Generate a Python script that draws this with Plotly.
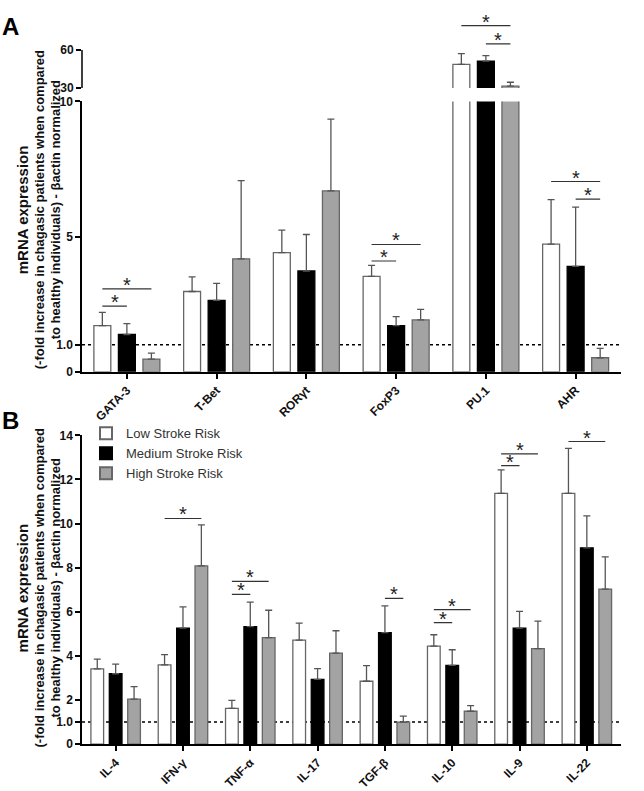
import plotly.graph_objects as go

# ---------------- data ----------------
groups_a = ["GATA-3", "T-Bet", "RORγt", "FoxP3", "PU.1", "AHR"]
low_a = [1.71, 2.97, 4.41, 3.53, 48.7, 4.72]
low_a_err = [0.49, 0.54, 0.83, 0.41, 8.5, 1.65]
med_a = [1.38, 2.64, 3.73, 1.71, 51.3, 3.90]
med_a_err = [0.40, 0.63, 1.35, 0.33, 4.3, 2.19]
high_a = [0.47, 4.18, 6.69, 1.92, 31.5, 0.52]
high_a_err = [0.22, 2.89, 2.66, 0.39, 3.1, 0.35]

groups_b = ["IL-4", "IFN-γ", "TNF-α", "IL-17", "TGF-β", "IL-10", "IL-9", "IL-22"]
low_b = [3.41, 3.59, 1.62, 4.72, 2.85, 4.44, 11.37, 11.37]
low_b_err = [0.44, 0.47, 0.36, 0.77, 0.71, 0.52, 1.06, 2.04]
med_b = [3.19, 5.26, 5.33, 2.94, 5.06, 3.57, 5.26, 8.90]
med_b_err = [0.44, 0.96, 1.11, 0.48, 1.21, 0.71, 0.76, 1.45]
high_b = [2.04, 8.08, 4.83, 4.13, 1.00, 1.49, 4.33, 7.03]
high_b_err = [0.57, 1.86, 1.24, 1.01, 0.27, 0.26, 1.25, 1.46]

series_names = ["Low Stroke Risk", "Medium Stroke Risk", "High Stroke Risk"]

# significance brackets: (group index, bar a, bar b, height)
sig_a_lower = [(0, 0, 1, 2.43), (0, 0, 2, 3.07), (3, 0, 1, 4.10), (3, 0, 2, 4.71),
               (5, 0, 2, 7.04), (5, 1, 2, 6.39)]
sig_a_upper = [(4, 0, 2, 79.2), (4, 1, 2, 64.8)]
sig_b = [(1, 0, 2, 10.23), (2, 0, 2, 7.38), (2, 0, 1, 6.79), (4, 1, 2, 6.61),
         (5, 0, 2, 6.10), (5, 0, 1, 5.51), (6, 0, 2, 13.16), (6, 0, 1, 12.63),
         (7, 0, 2, 13.72)]

# ---------------- styling ----------------
W, H = 644, 791
fills = ["white", "black", "#a3a3a3"]
edges = ["#666666", "black", "#666666"]
FONT = "Arial"
BARGAP = 0.18
SLOT = (1 - BARGAP) / 3


def px_x(p):
    return p / W


def px_y(p):
    return 1 - p / H


X_DOM = [px_x(82), px_x(620.5)]

fig = go.Figure()

def add_bars(cats, vals_list, errs_list, xa, ya, legend):
    for k in range(3):
        fig.add_trace(go.Bar(
            x=cats, y=vals_list[k], name=series_names[k],
            xaxis=xa, yaxis=ya, showlegend=legend,
            offsetgroup=str(k),
            marker=dict(color=fills[k], line=dict(color=edges[k], width=1.3)),
            error_y=dict(type="data", symmetric=False, array=errs_list[k],
                         arrayminus=[0] * len(cats), color="#555555",
                         thickness=1.3, width=3.5),
        ))

vals_a = [low_a, med_a, high_a]
errs_a = [low_a_err, med_a_err, high_a_err]
vals_b = [low_b, med_b, high_b]
errs_b = [low_b_err, med_b_err, high_b_err]

add_bars(groups_a, vals_a, errs_a, "x", "y", False)
add_bars(groups_a, vals_a, errs_a, "x2", "y2", False)
add_bars(groups_b, vals_b, errs_b, "x3", "y3", True)

shapes = []
annotations = []

def add_sig(items, xref, yref):
    for (g, a, b, yv) in items:
        xa = g + (a - 1) * SLOT
        xb = g + (b - 1) * SLOT
        shapes.append(dict(type="line", xref=xref, yref=yref, x0=xa, x1=xb,
                           y0=yv, y1=yv, line=dict(color="#333333", width=1.2)))
        annotations.append(dict(xref=xref, yref=yref, x=(xa + xb) / 2, y=yv,
                                text="*", showarrow=False, yanchor="bottom",
                                xanchor="center",
                                yshift=-9, font=dict(family=FONT, size=20, color="#222")))

add_sig(sig_a_lower, "x", "y")
add_sig(sig_a_upper, "x2", "y2")
add_sig(sig_b, "x3", "y3")

# dotted reference lines at 1.0
for xr, yr in [("x domain", "y"), ("x3 domain", "y3")]:
    shapes.append(dict(type="line", xref=xr, yref=yr, x0=0, x1=1, y0=1, y1=1,
                       layer="below", line=dict(color="black", width=1.5, dash="dot")))

# upper axis line segment (30 - 60)
shapes.append(dict(type="line", xref="x2 domain", yref="y2", x0=0, x1=0, y0=30, y1=60,
                   line=dict(color="black", width=1.5)))

# y-axis titles
def add_title(cy):
    lines = [(22, 15, "<b>mRNA expression</b>"),
             (39, 13, "<b>(-fold increase in chagasic patients when compared</b>"),
             (55, 13, "<b>to healthy individuals) - βactin normalized</b>")]
    for cx, size, txt in lines:
        annotations.append(dict(xref="paper", yref="paper", x=px_x(cx), y=px_y(cy),
                                xanchor="center", yanchor="middle",
                                text=txt, textangle=-90, showarrow=False,
                                font=dict(family=FONT, size=size, color="#111")))

add_title(208)
add_title(595)

annotations.append(dict(xref="paper", yref="paper", x=0, y=px_y(20), xanchor="left",
                        yanchor="middle", text="<b>A</b>", showarrow=False,
                        font=dict(family=FONT, size=24, color="black")))
annotations.append(dict(xref="paper", yref="paper", x=0, y=px_y(423), xanchor="left",
                        yanchor="middle", text="<b>B</b>", showarrow=False,
                        font=dict(family=FONT, size=24, color="black")))

tickfont = dict(family=FONT, size=12, color="#111", weight="bold")
axis_common = dict(showline=True, linecolor="black", linewidth=1.5, ticks="outside",
                   ticklen=5, tickwidth=1.5, tickcolor="black", showgrid=False,
                   zeroline=False, tickfont=tickfont)

fig.update_layout(
    width=W, height=H,
    margin=dict(l=0, r=0, t=0, b=0),
    paper_bgcolor="white", plot_bgcolor="white",
    barmode="group", bargap=BARGAP, bargroupgap=0.31,
    font=dict(family=FONT),
    xaxis=dict(domain=X_DOM, anchor="y", type="category", range=[-0.5, 5.5],
               tickangle=-45, **axis_common),
    yaxis=dict(domain=[px_y(373.3), px_y(96.7)], anchor="x", range=[0, 10],
               tickvals=[0, 1, 5, 10], ticktext=["0", "1.0", "5", "10"], **axis_common),
    xaxis2=dict(domain=X_DOM, anchor="y2", type="category", range=[-0.5, 5.5],
                visible=False),
    yaxis2=dict(domain=[px_y(83), 1], anchor="x2", range=[30, 30 + 83 / 1.3],
                tickvals=[30, 60], ticktext=["30", "60"],
                **{**axis_common, "showline": False}),
    xaxis3=dict(domain=X_DOM, anchor="y3", type="category", range=[-0.5, 7.5],
                tickangle=-45, **axis_common),
    yaxis3=dict(domain=[px_y(754.3), px_y(438.3)], anchor="x3", range=[0, 14],
                tickvals=[0, 1, 2, 4, 6, 8, 10, 12, 14],
                ticktext=["0", "1.0", "2", "4", "6", "8", "10", "12", "14"], **axis_common),
    legend=dict(x=px_x(86), y=px_y(421), xanchor="left", yanchor="top",
                tracegroupgap=0, itemsizing="constant",
                font=dict(family=FONT, size=13, color="#333"), bgcolor="rgba(0,0,0,0)"),
    shapes=shapes,
    annotations=annotations,
)

fig.write_html("out.html")
